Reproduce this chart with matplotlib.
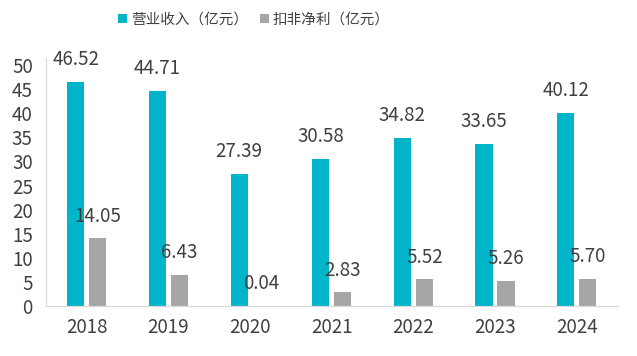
import numpy as np
import matplotlib
matplotlib.use('Agg')
import matplotlib.pyplot as plt

plt.rcParams['font.family'] = ['Noto Sans CJK SC', 'DejaVu Sans']

# Data
years = ['2018', '2019', '2020', '2021', '2022', '2023', '2024']
revenue = [46.52, 44.71, 27.39, 30.58, 34.82, 33.65, 40.12]
net_profit = [14.05, 6.43, 0.04, 2.83, 5.52, 5.26, 5.70]
series_names = ['营业收入（亿元）', '扣非净利（亿元）']

teal = '#00B4C9'
gray = '#A6A6A6'
text_color = '#404040'

fig = plt.figure(figsize=(6.37, 3.56), dpi=100)
ax = fig.add_axes([46 / 637, 1 - 306 / 356, (617.5 - 46) / 637, (306 - 57.8) / 356])

x = np.arange(len(years))
bar_width = 0.21
offset = 0.135

bars1 = ax.bar(x - offset, revenue, bar_width, color=teal, label=series_names[0])
bars2 = ax.bar(x + offset, net_profit, bar_width, color=gray, label=series_names[1])

for bars, vals in [(bars1, revenue), (bars2, net_profit)]:
    for bar, v in zip(bars, vals):
        ax.annotate(f'{v:.2f}', (bar.get_x() + bar.get_width() / 2, bar.get_height()),
                    xytext=(0, 16), textcoords='offset points',
                    ha='center', va='center', fontsize=13.5, color=text_color)

ax.set_xlim(-0.5, len(years) - 0.5)
ax.set_ylim(0, 51.5)
ax.set_yticks(np.arange(0, 51, 5))
ax.set_xticks(x)
ax.set_xticklabels(years)
ax.tick_params(axis='both', length=0, labelsize=13.5, labelcolor=text_color)
ax.tick_params(axis='x', pad=8)
ax.tick_params(axis='y', pad=9.5)

for side in ['top', 'right']:
    ax.spines[side].set_visible(False)
for side in ['left', 'bottom']:
    ax.spines[side].set_color('#D9D9D9')
    ax.spines[side].set_linewidth(0.9)

fig.legend(loc='center', bbox_to_anchor=(254 / 637, 1 - 20 / 356), ncol=2, frameon=False,
           fontsize=10.5, handlelength=0.6, handleheight=0.6, handletextpad=0.3,
           columnspacing=0.8, labelcolor=text_color)

fig.savefig('out.png', dpi=100)
